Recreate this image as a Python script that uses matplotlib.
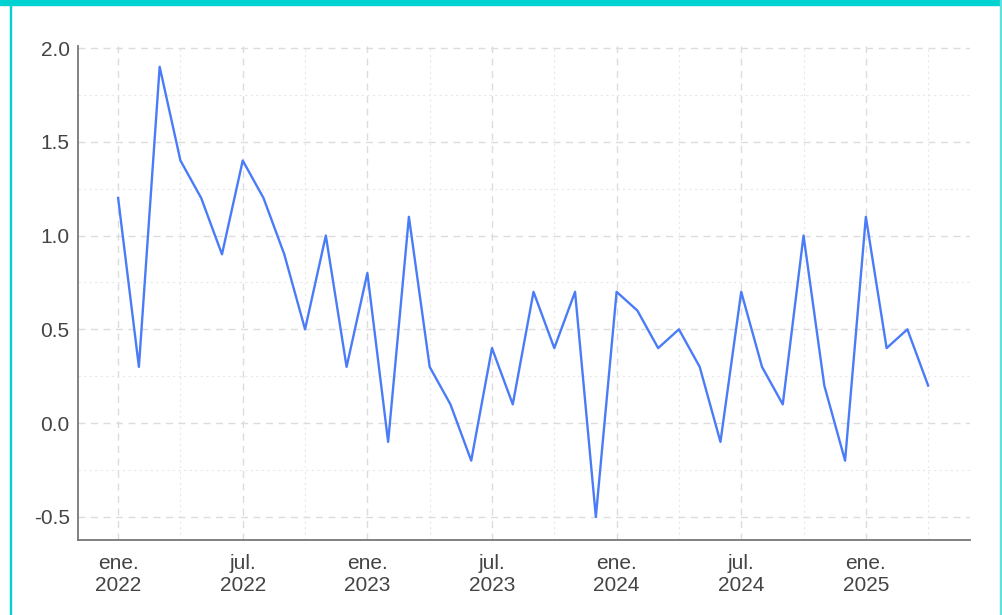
import matplotlib
matplotlib.use("Agg")
import matplotlib.pyplot as plt
from matplotlib.patches import Rectangle
from matplotlib.ticker import MultipleLocator

plt.rcParams['font.family'] = ['Liberation Sans', 'DejaVu Sans']

# monthly values, ene. 2022 .. abr. 2025
values = [1.2, 0.3, 1.9, 1.4, 1.2, 0.9, 1.4, 1.2, 0.9, 0.5, 1.0, 0.3,
          0.8, -0.1, 1.1, 0.3, 0.1, -0.2, 0.4, 0.1, 0.7, 0.4, 0.7, -0.5,
          0.7, 0.6, 0.4, 0.5, 0.3, -0.1, 0.7, 0.3, 0.1, 1.0, 0.2, -0.2,
          1.1, 0.4, 0.5, 0.2]
months = list(range(len(values)))
tick_pos = [0, 6, 12, 18, 24, 30, 36]
tick_labels = ['ene.\n2022', 'jul.\n2022', 'ene.\n2023', 'jul.\n2023',
               'ene.\n2024', 'jul.\n2024', 'ene.\n2025']

fig = plt.figure(figsize=(10.03, 6.15), dpi=100)
ax = fig.add_axes([0.0778, 0.122, 0.889, 0.803])

ax.plot(months, values, color='#4a7cf7', linewidth=1.7)

ax.set_xlim(-1.93, 41.0)
ax.set_ylim(-0.623, 2.01)
ax.set_xticks(tick_pos)
ax.set_xticklabels(tick_labels, linespacing=1.2)
ax.xaxis.set_minor_locator(MultipleLocator(3))
ax.set_yticks([-0.5, 0.0, 0.5, 1.0, 1.5, 2.0])
ax.set_yticklabels(['-0.5', '0.0', '0.5', '1.0', '1.5', '2.0'])
ax.yaxis.set_minor_locator(MultipleLocator(0.25))

ax.grid(which='major', color='#dcdcdc', linestyle=(0, (5, 4)), linewidth=1)
ax.grid(which='minor', color='#e8e8e8', linestyle=(0, (2, 3)), linewidth=0.8)
ax.set_axisbelow(True)
ax.tick_params(which='both', length=0, labelsize=15, colors='#444444')
ax.tick_params(axis='x', pad=10)
ax.tick_params(axis='y', pad=6)

for s in ['top', 'right']:
    ax.spines[s].set_visible(False)
for s in ['left', 'bottom']:
    ax.spines[s].set_color('#777777')
    ax.spines[s].set_linewidth(1.3)

# teal frame
fig.patches.append(Rectangle((0, 1 - 5 / 615), 1, 5 / 615, transform=fig.transFigure,
                             color='#00d2d2', zorder=0))
fig.patches.append(Rectangle((10 / 1003, 0), 1.5 / 1003, 1, transform=fig.transFigure,
                             color='#00d2d2', zorder=0))
fig.patches.append(Rectangle((1000.5 / 1003, 0), 1.5 / 1003, 1, transform=fig.transFigure,
                             color='#60e0e0', zorder=0))

fig.savefig('out.png', dpi=100)
